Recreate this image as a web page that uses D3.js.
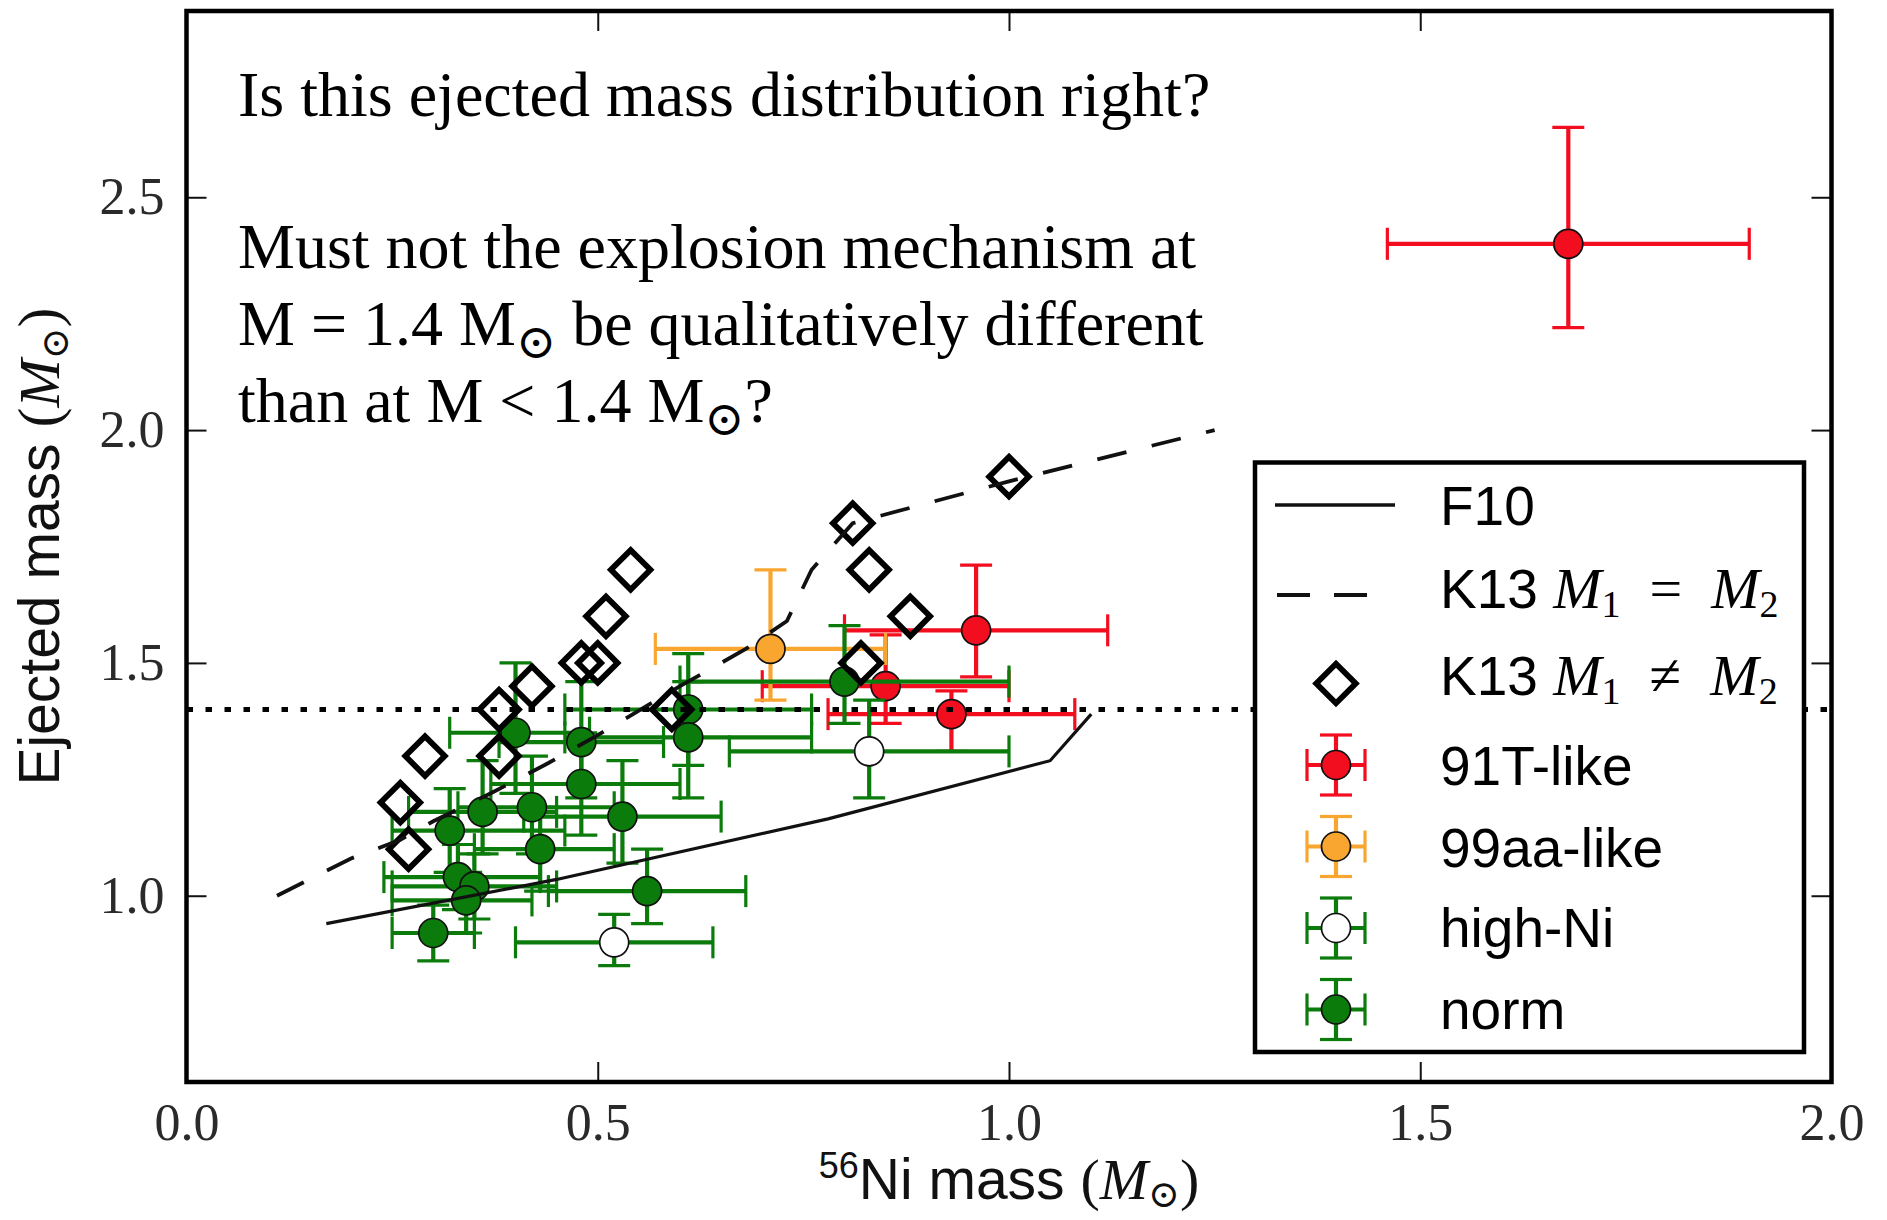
<!DOCTYPE html>
<html>
<head>
<meta charset="utf-8">
<script src="https://cdn.jsdelivr.net/npm/d3@7/dist/d3.min.js"></script>
<style>
  body { margin: 0; background: #fff; }
  svg { display: block; }
</style>
</head>
<body>
<svg id="chart" width="1887" height="1220"></svg>
<script>
// Tick values on both axes
const niTicks = [0.0, 0.5, 1.0, 1.5, 2.0];
const ejTicks = [1.0, 1.5, 2.0, 2.5];

// F10 model curve (Ni mass, ejected mass)
const f10Ni = [0.17, 0.45, 0.78, 1.05, 1.10];
const f10Ej = [0.94, 1.035, 1.165, 1.29, 1.39];

// K13 equal-mass merger curve
const k13EqNi = [0.11, 0.20, 0.26, 0.30, 0.37, 0.44, 0.50, 0.60, 0.68, 0.73, 0.76, 0.81, 1.00, 1.25];
const k13EqEj = [1.00, 1.08, 1.12, 1.16, 1.22, 1.285, 1.345, 1.45, 1.53, 1.59, 1.70, 1.80, 1.89, 2.00];

// K13 unequal-mass mergers
const k13NeqNi = [0.26, 0.27, 0.29, 0.38, 0.38, 0.42, 0.48, 0.50, 0.51, 0.54, 0.59, 0.81, 0.83, 0.88, 0.82, 1.00];
const k13NeqEj = [1.20, 1.10, 1.30, 1.40, 1.30, 1.45, 1.50, 1.50, 1.60, 1.70, 1.40, 1.80, 1.70, 1.60, 1.50, 1.90];

// Supernova samples, each row: [ni, niMin, niMax, ej, ejMin, ejMax]
const sn91T = [
  [1.68, 1.46, 1.90, 2.40, 2.22, 2.65],
  [0.96, 0.80, 1.12, 1.57, 1.47, 1.71],
  [0.93, 0.78, 1.08, 1.39, 1.31, 1.44],
  [0.85, 0.70, 1.00, 1.45, 1.37, 1.56]
];
const sn99aa = [
  [0.71, 0.57, 0.85, 1.53, 1.42, 1.70]
];
const snHighNi = [
  [0.83, 0.66, 1.00, 1.31, 1.21, 1.42],
  [0.52, 0.40, 0.64, 0.90, 0.85, 0.96]
];
const snNorm = [
  [0.30, 0.25, 0.35, 0.92, 0.86, 0.98],
  [0.32, 0.25, 0.46, 1.14, 1.05, 1.23],
  [0.33, 0.24, 0.43, 1.04, 0.97, 1.11],
  [0.35, 0.25, 0.45, 1.02, 0.95, 1.09],
  [0.34, 0.25, 0.42, 0.99, 0.92, 1.05],
  [0.36, 0.27, 0.45, 1.18, 1.09, 1.29],
  [0.40, 0.32, 0.49, 1.35, 1.22, 1.50],
  [0.42, 0.33, 0.52, 1.19, 1.09, 1.30],
  [0.43, 0.35, 0.52, 1.10, 1.01, 1.19],
  [0.48, 0.38, 0.58, 1.33, 1.21, 1.46],
  [0.48, 0.37, 0.60, 1.24, 1.13, 1.35],
  [0.53, 0.41, 0.65, 1.17, 1.07, 1.29],
  [0.56, 0.44, 0.68, 1.01, 0.94, 1.10],
  [0.61, 0.46, 0.76, 1.40, 1.28, 1.52],
  [0.61, 0.46, 0.76, 1.34, 1.21, 1.46],
  [0.80, 0.60, 1.00, 1.46, 1.37, 1.58]
];

const chandrasekhar = 1.4;

const questions = [
  "Is this ejected mass distribution right?",
  "Must not the explosion mechanism at",
  "M = 1.4 M|⊙| be qualitatively different",
  "than at M < 1.4 M|⊙|?"
];

const colors = { red: "#f20d1f", orange: "#f9a630", green: "#0b7b0b" };

const serif = "'Liberation Serif', 'Times New Roman', serif";
const sans = "'Liberation Sans', Arial, Helvetica, sans-serif";
const symbolFont = "'DejaVu Serif', 'DejaVu Sans', serif";

// Plot frame
const frame = { left: 186.5, right: 1831.5, top: 11, bottom: 1082 };

const svg = d3.select("#chart");

const xScale = d3.scaleLinear().domain([0, 2]).range([frame.left, frame.right]);
const yScale = d3.scaleLinear().domain([0.6, 2.9]).range([frame.bottom, frame.top]);

svg.append("defs").append("clipPath").attr("id", "plot-clip")
   .append("rect")
   .attr("x", frame.left).attr("y", frame.top)
   .attr("width", frame.right - frame.left)
   .attr("height", frame.bottom - frame.top);

// Axes, ticks pointing inward on all four sides
const tickLen = 20;
svg.append("g")
   .attr("transform", "translate(0," + frame.bottom + ")")
   .call(d3.axisBottom(xScale).tickValues(niTicks).tickSizeInner(-tickLen).tickSizeOuter(0)
           .tickPadding(21).tickFormat(d3.format(".1f")));
svg.append("g")
   .attr("transform", "translate(" + frame.left + ",0)")
   .call(d3.axisLeft(yScale).tickValues(ejTicks).tickSizeInner(-tickLen).tickSizeOuter(0)
           .tickPadding(22).tickFormat(d3.format(".1f")));
svg.append("g")
   .attr("transform", "translate(0," + frame.top + ")")
   .call(d3.axisTop(xScale).tickValues(niTicks).tickSizeInner(-tickLen).tickSizeOuter(0).tickFormat(""));
svg.append("g")
   .attr("transform", "translate(" + frame.right + ",0)")
   .call(d3.axisRight(yScale).tickValues(ejTicks).tickSizeInner(-tickLen).tickSizeOuter(0).tickFormat(""));

svg.selectAll(".domain").remove();
svg.selectAll(".tick line").attr("stroke", "#111").attr("stroke-width", 2);
svg.selectAll(".tick text")
   .attr("fill", "#2a2a2a")
   .style("font-family", serif)
   .style("font-size", "52px");

// Data layer, clipped to the axes box
const plot = svg.append("g").attr("clip-path", "url(#plot-clip)");

const markerR = 14.5;
const barWidth = 4.2;
const capWidth = 3.2;
const capHalf = 16;

function drawErrorGroup(rows, color, fill) {
    const g = plot.append("g");
    rows.forEach(function (r) {
        const cx = xScale(r[0]), cy = yScale(r[3]);
        const x0 = xScale(r[1]), x1 = xScale(r[2]);
        const y0 = yScale(r[4]), y1 = yScale(r[5]);
        const bars = g.append("g").attr("stroke", color).attr("stroke-width", barWidth);
        bars.append("line").attr("x1", x0).attr("x2", x1).attr("y1", cy).attr("y2", cy);
        bars.append("line").attr("x1", cx).attr("x2", cx).attr("y1", y0).attr("y2", y1);
        [x0, x1].forEach(function (xc) {
            bars.append("line").attr("x1", xc).attr("x2", xc)
                .attr("y1", cy - capHalf).attr("y2", cy + capHalf).attr("stroke-width", capWidth);
        });
        [y0, y1].forEach(function (yc) {
            bars.append("line").attr("y1", yc).attr("y2", yc)
                .attr("x1", cx - capHalf).attr("x2", cx + capHalf).attr("stroke-width", capWidth);
        });
    });
    g.selectAll("circle.pt")
     .data(rows)
     .enter()
     .append("circle")
     .attr("class", "pt")
     .attr("cx", d => xScale(d[0]))
     .attr("cy", d => yScale(d[3]))
     .attr("r", markerR)
     .attr("fill", fill)
     .attr("stroke", "#111")
     .attr("stroke-width", 1.7);
}

drawErrorGroup(sn91T, colors.red, colors.red);
drawErrorGroup(sn99aa, colors.orange, colors.orange);
drawErrorGroup(snHighNi, colors.green, "#ffffff");
drawErrorGroup(snNorm, colors.green, colors.green);

// Model curves
const curve = d3.line().x(d => xScale(d[0])).y(d => yScale(d[1]));
plot.append("path")
    .datum(d3.zip(f10Ni, f10Ej))
    .attr("d", curve)
    .attr("fill", "none")
    .attr("stroke", "#111")
    .attr("stroke-width", 3.2);

// Unequal-mass diamonds
const diamond = d3.symbol().type(d3.symbolSquare).size(780);
plot.append("g")
    .selectAll("path")
    .data(d3.zip(k13NeqNi, k13NeqEj))
    .enter()
    .append("path")
    .attr("d", diamond)
    .attr("transform", d => "translate(" + xScale(d[0]) + "," + yScale(d[1]) + ") rotate(45)")
    .attr("fill", "none")
    .attr("stroke", "#000")
    .attr("stroke-width", 5.8);

plot.append("path")
    .datum(d3.zip(k13EqNi, k13EqEj))
    .attr("d", curve)
    .attr("fill", "none")
    .attr("stroke", "#111")
    .attr("stroke-width", 3.8)
    .attr("stroke-dasharray", "30 26");

// Chandrasekhar mass line
plot.append("line")
    .attr("x1", xScale(0)).attr("x2", xScale(2))
    .attr("y1", yScale(chandrasekhar)).attr("y2", yScale(chandrasekhar))
    .attr("stroke", "#000")
    .attr("stroke-width", 4.8)
    .attr("stroke-dasharray", "6.5 12.5");

// Axes box
svg.append("rect")
   .attr("x", frame.left).attr("y", frame.top)
   .attr("width", frame.right - frame.left)
   .attr("height", frame.bottom - frame.top)
   .attr("fill", "none")
   .attr("stroke", "#000")
   .attr("stroke-width", 4.5);

// Writes a run of styled pieces into a text element, shifting baselines for sub/superscripts
function writeParts(textSel, parts) {
    let shift = 0;
    parts.forEach(function (p) {
        const s = p.shift || 0;
        textSel.append("tspan")
               .attr("dy", s - shift)
               .style("font-family", p.font)
               .style("font-style", p.italic ? "italic" : "normal")
               .style("font-size", p.size + "px")
               .text(p.t);
        shift = s;
    });
}

// Questions in the upper-left corner
const qLines = [116, 268, 345, 422];
questions.forEach(function (q, i) {
    const t = svg.append("text")
                 .attr("x", 238)
                 .attr("y", qLines[i])
                 .attr("fill", "#000");
    const parts = q.split("|").map(function (p, j) {
        if (j % 2 === 1) {
            return { t: p, font: symbolFont, size: 48, shift: 13 };
        }
        return { t: p, font: serif, size: 64, shift: 0 };
    });
    writeParts(t, parts);
});

// Axis labels
const labelSize = 57;
const yLabel = svg.append("text")
    .attr("transform", "translate(59," + ((frame.top + frame.bottom) / 2) + ") rotate(-90)")
    .attr("text-anchor", "middle")
    .attr("fill", "#111");
writeParts(yLabel, [
    { t: "Ejected mass ", font: sans, size: labelSize },
    { t: "(", font: serif, size: 60 },
    { t: "M", font: serif, size: 58, italic: true },
    { t: "⊙", font: symbolFont, size: 38, shift: 9 },
    { t: ")", font: serif, size: 60, shift: 0 }
]);

const xLabel = svg.append("text")
    .attr("x", (frame.left + frame.right) / 2)
    .attr("y", 1199)
    .attr("text-anchor", "middle")
    .attr("fill", "#111");
writeParts(xLabel, [
    { t: "56", font: sans, size: 36, shift: -21 },
    { t: "Ni mass ", font: sans, size: labelSize, shift: 0 },
    { t: "(", font: serif, size: 58 },
    { t: "M", font: serif, size: 58, italic: true },
    { t: "⊙", font: symbolFont, size: 38, shift: 8 },
    { t: ")", font: serif, size: 58, shift: 0 }
]);

// Legend
const legendBox = { left: 1255, top: 462.5, right: 1804, bottom: 1052 };
const legend = svg.append("g");
legend.append("rect")
      .attr("x", legendBox.left).attr("y", legendBox.top)
      .attr("width", legendBox.right - legendBox.left)
      .attr("height", legendBox.bottom - legendBox.top)
      .attr("fill", "#fff")
      .attr("stroke", "#000")
      .attr("stroke-width", 4.5);

const legendX = 1336, legendTextX = 1440;
const legendRows = [
  { y: 505, base: 525, kind: "solid" },
  { y: 595, base: 608, kind: "dashed", rel: "\u2002=\u2002" },
  { y: 683.5, base: 695, kind: "diamond", rel: "\u2002≠\u2002" },
  { y: 765, base: 785, kind: "err", color: colors.red, fill: colors.red, label: "91T-like" },
  { y: 846.5, base: 866.5, kind: "err", color: colors.orange, fill: colors.orange, label: "99aa-like" },
  { y: 928, base: 947, kind: "err", color: colors.green, fill: "#ffffff", label: "high-Ni" },
  { y: 1009.5, base: 1029, kind: "err", color: colors.green, fill: colors.green, label: "norm" }
];

function mergerLabel(row) {
    writeParts(legend.append("text").attr("x", legendTextX).attr("y", row.base), [
        { t: "K13 ", font: sans, size: 55 },
        { t: "M", font: serif, size: 58, italic: true },
        { t: "1", font: serif, size: 38, shift: 9 },
        { t: row.rel, font: serif, size: 58, shift: 0 },
        { t: "M", font: serif, size: 58, italic: true },
        { t: "2", font: serif, size: 38, shift: 9 }
    ]);
}

legendRows.forEach(function (row) {
    if (row.kind === "solid") {
        legend.append("line").attr("x1", 1275).attr("x2", 1395)
              .attr("y1", row.y).attr("y2", row.y)
              .attr("stroke", "#111").attr("stroke-width", 3.5);
        writeParts(legend.append("text").attr("x", legendTextX).attr("y", row.base),
                   [{ t: "F10", font: sans, size: 55 }]);
    } else if (row.kind === "dashed") {
        legend.append("line").attr("x1", 1277).attr("x2", 1367)
              .attr("y1", row.y).attr("y2", row.y)
              .attr("stroke", "#111").attr("stroke-width", 4)
              .attr("stroke-dasharray", "33 24");
        mergerLabel(row);
    } else if (row.kind === "diamond") {
        legend.append("path").attr("d", diamond)
              .attr("transform", "translate(" + legendX + "," + row.y + ") rotate(45)")
              .attr("fill", "none").attr("stroke", "#000").attr("stroke-width", 5.8);
        mergerLabel(row);
    } else {
        const g = legend.append("g").attr("stroke", row.color);
        g.append("line").attr("x1", legendX - 29).attr("x2", legendX + 29)
         .attr("y1", row.y).attr("y2", row.y).attr("stroke-width", barWidth);
        g.append("line").attr("x1", legendX).attr("x2", legendX)
         .attr("y1", row.y - 30).attr("y2", row.y + 30).attr("stroke-width", barWidth);
        [-29, 29].forEach(function (o) {
            g.append("line").attr("x1", legendX + o).attr("x2", legendX + o)
             .attr("y1", row.y - capHalf).attr("y2", row.y + capHalf).attr("stroke-width", capWidth);
        });
        [-30, 30].forEach(function (o) {
            g.append("line").attr("y1", row.y + o).attr("y2", row.y + o)
             .attr("x1", legendX - capHalf).attr("x2", legendX + capHalf).attr("stroke-width", capWidth);
        });
        legend.append("circle").attr("cx", legendX).attr("cy", row.y).attr("r", markerR)
              .attr("fill", row.fill).attr("stroke", "#111").attr("stroke-width", 1.7);
        writeParts(legend.append("text").attr("x", legendTextX).attr("y", row.base),
                   [{ t: row.label, font: sans, size: 55 }]);
    }
});
legend.selectAll("text").attr("fill", "#000");
</script>
</body>
</html>
